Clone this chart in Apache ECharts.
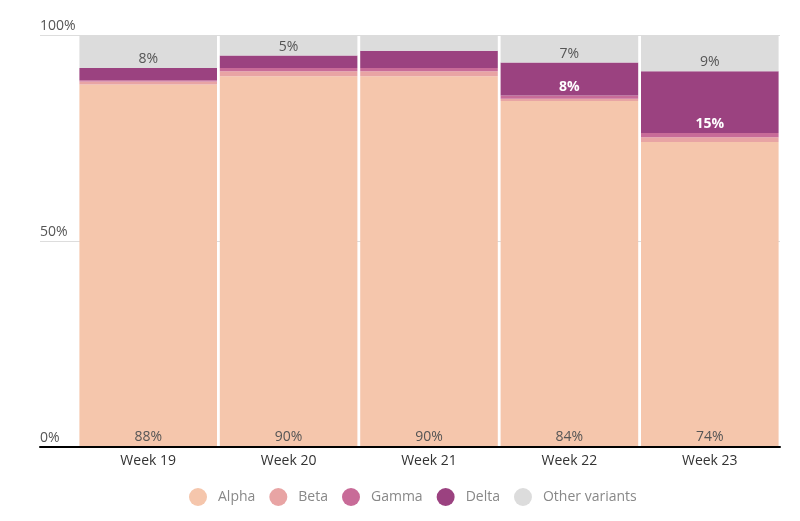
<!DOCTYPE html>
<html>
<head>
<meta charset="utf-8">
<script src="https://cdn.jsdelivr.net/npm/echarts@6/dist/echarts.min.js"></script>
<style>html,body{margin:0;padding:0;background:#fff}#c{width:800px;height:521px}</style>
</head>
<body>
<div id="c"></div>
<script>
const categories = ['Week 19', 'Week 20', 'Week 21', 'Week 22', 'Week 23'];
const alpha = [88, 90, 90, 84, 74];
const beta = [0.7, 1.2, 1.2, 0.5, 1.2];
const gamma = [0.3, 0.8, 0.8, 0.8, 1.0];
const delta = [3, 3, 4.2, 8, 15];
const other = [8, 5, 3.8, 6.7, 8.8];
const alphaLabels = ['88%', '90%', '90%', '84%', '74%'];
const deltaLabels = ['', '', '', '8%', '15%'];
const otherLabels = ['8%', '5%', '', '7%', '9%'];
const yTicks = [0, 50, 100];

const FONT = 'Open Sans';
const chart = echarts.init(document.getElementById('c'), null, {renderer: 'canvas'});

function withLabels(vals, labels) {
  return vals.map((v, i) => ({value: v, label: {show: !!labels[i], formatter: labels[i] || ''}}));
}

const baseLabel = {position: 'insideBottom', distance: 2, fontFamily: FONT, fontSize: 14};

const series = [
  {name: 'Alpha', data: withLabels(alpha, alphaLabels), color: '#F5C6AC',
   label: Object.assign({}, baseLabel, {color: '#555', distance: 3})},
  {name: 'Beta', data: beta, color: '#E8A4A4', label: {show: false}},
  {name: 'Gamma', data: gamma, color: '#C86B98', label: {show: false}},
  {name: 'Delta', data: withLabels(delta, deltaLabels), color: '#9B4280',
   label: Object.assign({}, baseLabel, {color: '#fff', fontWeight: 'bold'})},
  {name: 'Other variants', data: withLabels(other, otherLabels), color: '#DCDCDC',
   label: Object.assign({}, baseLabel, {color: '#555'})}
].map(s => Object.assign({type: 'bar', stack: 'total', xAxisIndex: 1, yAxisIndex: 1,
  barCategoryGap: '2%', emphasis: {disabled: true}}, s));

chart.setOption({
  animation: false,
  textStyle: {fontFamily: FONT},
  grid: [
    {left: 40, right: 20, top: 35, bottom: 74},
    {left: 78, right: 20, top: 35, bottom: 74}
  ],
  xAxis: [
    {gridIndex: 0, type: 'category', data: [''], axisLabel: {show: false}, axisTick: {show: false},
     axisLine: {show: true, lineStyle: {color: '#000', width: 2}}, z: 10},
    {gridIndex: 1, type: 'category', data: categories, axisTick: {show: false},
     axisLine: {show: false},
     axisLabel: {color: '#333', fontSize: 14, fontFamily: FONT, margin: 7}}
  ],
  yAxis: [
    {gridIndex: 0, type: 'value', min: yTicks[0], max: yTicks[yTicks.length - 1], interval: 50,
     axisLine: {show: false}, axisTick: {show: false},
     splitLine: {show: true, lineStyle: {color: '#ddd', width: 1}},
     axisLabel: {inside: true, margin: 0, formatter: '{value}%', color: '#555', fontSize: 14,
       fontFamily: FONT, verticalAlign: 'bottom', padding: [0, 0, 2, 0]}},
    {gridIndex: 1, type: 'value', min: 0, max: 100, show: false}
  ],
  legend: {
    top: 483, left: 184, icon: 'circle', itemWidth: 18, itemHeight: 18, itemGap: 14,
    selectedMode: false,
    textStyle: {color: '#888', fontSize: 14, fontFamily: FONT, padding: [0, 0, 0, 6]},
    data: ['Alpha', 'Beta', 'Gamma', 'Delta', 'Other variants']
  },
  series: series
});
</script>
</body>
</html>
